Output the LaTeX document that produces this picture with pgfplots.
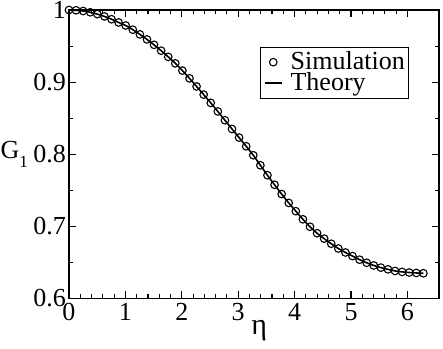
\documentclass[border=0pt]{standalone}
\usepackage{fontspec}
\setmainfont{Liberation Serif}
\usepackage{pgfplots}
\pgfplotsset{compat=1.18}

\pgfplotstableread{
eta      g
0.0000   1.0000
0.1257   0.9996
0.2513   0.9986
0.3770   0.9968
0.5027   0.9943
0.6283   0.9911
0.7540   0.9872
0.8796   0.9827
1.0053   0.9785
1.1310   0.9727
1.2566   0.9662
1.3823   0.9592
1.5080   0.9517
1.6336   0.9436
1.7593   0.9350
1.8850   0.9260
2.0106   0.9160
2.1363   0.9052
2.2619   0.8940
2.3876   0.8827
2.5133   0.8712
2.6389   0.8593
2.7646   0.8471
2.8903   0.8350
3.0159   0.8231
3.1416   0.8110
3.2673   0.7986
3.3929   0.7847
3.5186   0.7709
3.6442   0.7577
3.7699   0.7448
3.8956   0.7325
4.0212   0.7210
4.1469   0.7098
4.2726   0.6995
4.3982   0.6905
4.5239   0.6830
4.6496   0.6759
4.7752   0.6693
4.9009   0.6638
5.0265   0.6588
5.1522   0.6538
5.2779   0.6495
5.4035   0.6458
5.5292   0.6428
5.6549   0.6404
5.7805   0.6382
5.9062   0.6369
6.0319   0.6360
6.1575   0.6354
6.2832   0.6350
}\datatable

\begin{document}
\fontsize{26}{30}\selectfont
\begin{tikzpicture}
\begin{axis}[
  scale only axis,
  width=370pt, height=288.5pt,
  xmin=0, xmax=6.56,
  ymin=0.6, ymax=1,
  clip=false,
  xtick={0,1,2,3,4,5,6},
  ytick={0.6,0.7,0.8,0.9,1},
  yticklabels={0.6,0.7,0.8,0.9,1},
  minor x tick num=4,
  minor y tick num=1,
  tick align=inside,
  major tick length=7pt,
  minor tick length=4pt,
  axis line style={line width=1.5pt},
  every tick/.style={black, line width=1.1pt},
  /pgf/number format/assume math mode=true,
  tick label style={font=\fontsize{26}{30}\selectfont, inner sep=0pt},
  yticklabel style={xshift=-3pt},
  xticklabel style={yshift=-4.5pt},
  xlabel={η},
  xlabel style={font=\fontsize{30}{34}\selectfont, at={(axis description cs:0.514,0)},
    anchor=north, inner sep=0pt, yshift=-21.5pt},
  ylabel={G\raisebox{-9pt}{\fontsize{17}{17}\selectfont 1}},
  ylabel style={rotate=-90, font=\fontsize{26}{30}\selectfont,
    at={(axis description cs:0,0.5)}, anchor=east, inner sep=0pt, xshift=-41pt},
  legend style={at={(axis description cs:0.919,0.872)}, anchor=north east,
    draw=black, line width=0.6pt, inner sep=4pt, row sep=-1pt,
    font=\fontsize{26}{30}\selectfont, nodes={inner sep=0pt}},
  legend cell align=left,
]
\addplot[only marks, mark=o, mark size=3.8pt, mark options={line width=1.1pt, black}] table[x=eta, y=g] {\datatable};
\addlegendentry{\hspace{8pt}Simulation}
\addplot[black, line width=1.6pt, smooth] table[x=eta, y=g] {\datatable};
\addlegendentry{\hspace{8pt}Theory}
\end{axis}
\pgfresetboundingbox
\path[use as bounding box] ([xshift=-69pt, yshift=-50.5pt]current axis.south west)
  rectangle ([xshift=4pt, yshift=10pt]current axis.north east);
\end{tikzpicture}
\end{document}
